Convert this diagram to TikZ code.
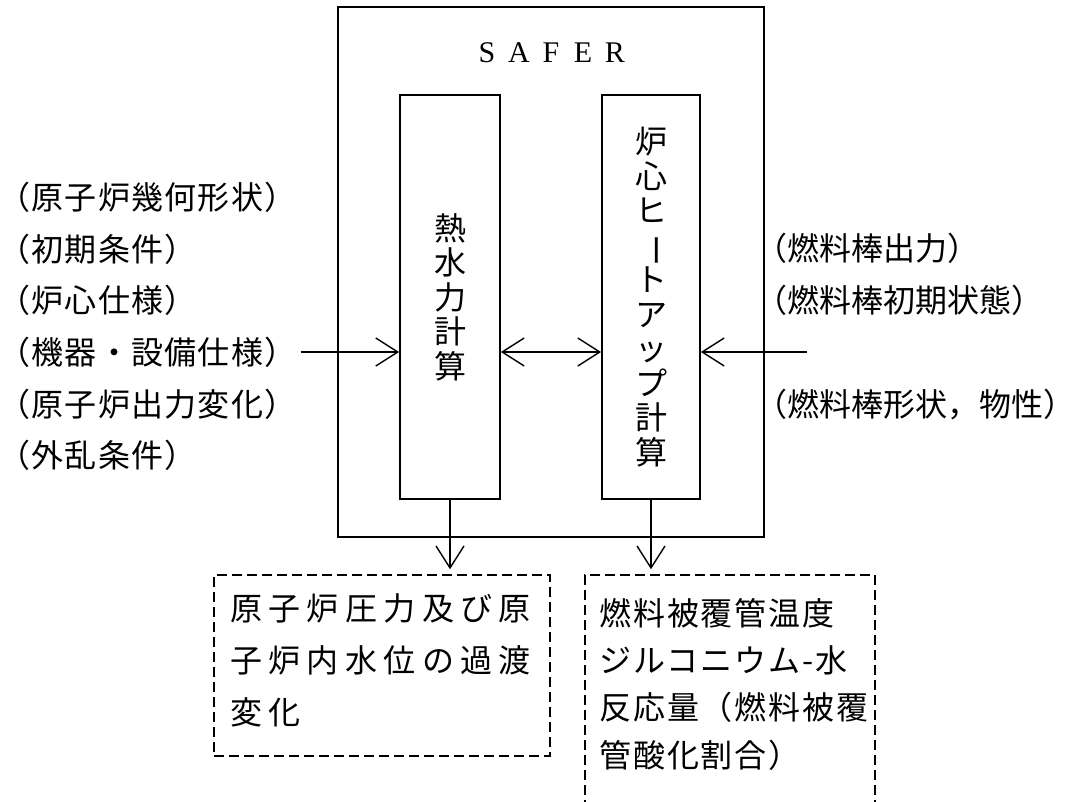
\documentclass[tikz,border=0pt]{standalone}
\usepackage{fontspec}
\setmainfont{Liberation Serif}
\newfontfamily\jp{Noto Sans CJK JP}
\newfontfamily\jpL[LetterSpace=4]{Noto Sans CJK JP}
\newfontfamily\jpA[LetterSpace=20]{Noto Sans CJK JP}
\newfontfamily\jpB[LetterSpace=6]{Noto Sans CJK JP}
\usetikzlibrary{arrows.meta}
\newcommand\fwch[1]{\makebox[32pt]{#1}}
\begin{document}
\begin{tikzpicture}[x=1pt,y=-1pt]
\tikzset{
  box/.style={draw, line width=1.8pt, inner sep=0pt},
  arr/.style={line width=1.4pt, -{Straight Barb[length=22pt,width=28pt,line width=1.4pt]}},
  darr/.style={line width=1.4pt, {Straight Barb[length=22pt,width=28pt,line width=1.4pt]}-{Straight Barb[length=22pt,width=28pt,line width=1.4pt]}},
  dbox/.style={draw, line width=1.5pt, dash pattern=on 10pt off 5pt, inner sep=0pt},
  lbl/.style={font=\jpL\fontsize{32}{34}\selectfont, inner sep=0pt, anchor=west},
  rlbl/.style={font=\jp\fontsize{32}{34}\selectfont, inner sep=0pt, anchor=west},
  ltxt/.style={font=\jpA\fontsize{32}{34}\selectfont, inner sep=0pt, anchor=west},
  rtxt/.style={font=\jpB\fontsize{32}{34}\selectfont, inner sep=0pt, anchor=west},
  vtxt/.style={font=\jp\fontsize{32}{34.5}\selectfont, align=center},
}
\useasboundingbox (0,0) rectangle (1083,801);

% outer SAFER box
\node[box, minimum width=426pt, minimum height=530pt] (outer) at (551,272) {};
\node[inner sep=0pt, font=\fontsize{30}{30}\selectfont] (safer) at (551,53) {\fwch{S}\fwch{A}\fwch{F}\fwch{E}\fwch{R}};

% inner boxes
\node[box, minimum width=100pt, minimum height=404pt] (L) at (450,297) {};
\node[vtxt] (Lt) at (450,297) {熱\\水\\力\\計\\算};
\node[box, minimum width=98pt, minimum height=404pt] (R) at (651,297) {};
\node[vtxt] (Rt) at (651,297) {炉\\心\\ヒ\\\rotatebox[origin=c]{-90}{ー}\\ト\\ア\\ッ\\プ\\計\\算};

% left inputs
\node[lbl] (l1) at (-2,197) {（原子炉幾何形状）};
\node[lbl] (l2) at (-2,249) {（初期条件）};
\node[lbl] (l3) at (-2,300) {（炉心仕様）};
\node[lbl] (l4) at (-2,352) {（機器・設備仕様）};
\node[lbl] (l5) at (-2,404) {（原子炉出力変化）};
\node[lbl] (l6) at (-2,455) {（外乱条件）};

% right inputs
\node[rlbl] (r1) at (755,248) {（燃料棒出力）};
\node[rlbl] (r2) at (755,300) {（燃料棒初期状態）};
\node[rlbl] (r3) at (755,405) {（燃料棒形状，物性）};

% output boxes
\node[dbox, minimum width=336pt, minimum height=181pt] (D1) at (382,665.5) {};
\node[ltxt] (d1a) at (230,608) {原子炉圧力及び原};
\node[ltxt] (d1b) at (230,660) {子炉内水位の過渡};
\node[ltxt] (d1c) at (230,712) {変化};

\node[dbox, minimum width=290pt, minimum height=260pt] (D2) at (730,705) {};
\node[rtxt] (d2a) at (599,613) {燃料被覆管温度};
\node[rtxt] (d2b) at (599,660) {ジルコニウム-水};
\node[rtxt] (d2c) at (599,707) {反応量（燃料被覆};
\node[rtxt] (d2d) at (599,755) {管酸化割合）};

% connectors
\coordinate (lvl) at (551,352);
\coordinate (rin) at (807,352);
\draw[arr] (l4.east) ++(4,0) -- (l4.east -| L.west);
\draw[darr] (lvl -| L.east) -- (lvl -| R.west);
\draw[arr] (rin) -- (rin -| R.east);
\draw[arr, shorten >=5pt] (L.south) -- (L.south |- D1.north);
\draw[arr, shorten >=5pt] (R.south) -- (R.south |- D2.north);
\end{tikzpicture}
\end{document}
